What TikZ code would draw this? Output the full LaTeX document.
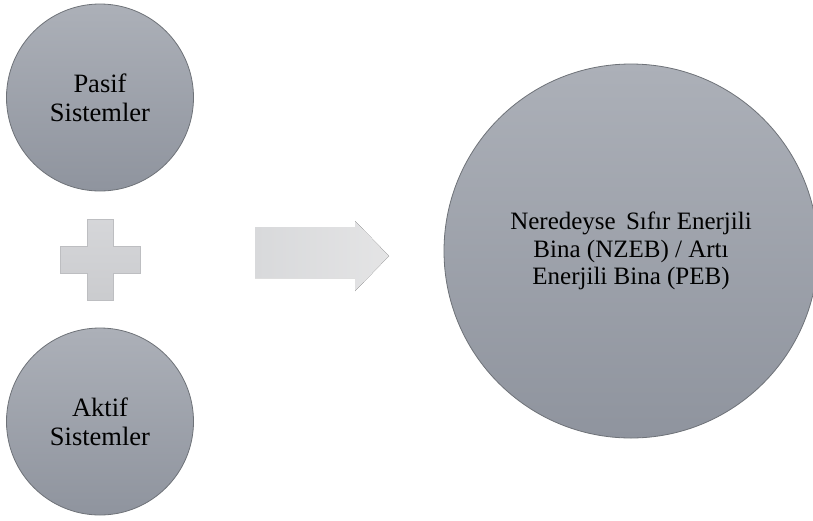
\documentclass[tikz,border=0pt]{standalone}
\usepackage{fontspec}
\setmainfont{Liberation Serif}
\usetikzlibrary{positioning}

\definecolor{discTop}{HTML}{ACB0B8}
\definecolor{discBot}{HTML}{8F949E}
\definecolor{discEdge}{HTML}{6E7278}
\definecolor{plusFill}{HTML}{D3D4D7}
\definecolor{plusEdge}{HTML}{BDBEC1}
\definecolor{arrowLeft}{HTML}{D8D9DB}
\definecolor{arrowRight}{HTML}{E4E4E5}

\begin{document}
\begin{tikzpicture}[x=1pt,y=-1pt,
	disc/.style={circle,draw=discEdge,line width=0.8pt,top color=discTop,bottom color=discBot,
		inner sep=0pt,align=center,font=\fontsize{26.5}{29}\selectfont},
	smalldisc/.style={disc,minimum size=187pt},
	bigdisc/.style={disc,minimum size=374pt,font=\fontsize{25}{27.5}\selectfont}]
	\useasboundingbox[fill=white] (0,0) rectangle (813,520);
	% the two inputs and the result
	\node[smalldisc] (pasif) at (100,97.5) {Pasif\\Sistemler};
	\node[smalldisc] (aktif) at (100,421.5) {Aktif\\Sistemler};
	\node[bigdisc] (nzeb) at (631,251) {Neredeyse\hspace{4pt} Sıfır Enerjili\\Bina (NZEB) / Artı\\Enerjili Bina (PEB)};
	% plus sign
	\filldraw[draw=plusEdge,line width=0.6pt,top color=plusFill!95!white,bottom color=plusFill!96!black]
		(87,219) -- (113,219) -- (113,246) -- (140,246) -- (140,273) -- (113,273)
		-- (113,300) -- (87,300) -- (87,273) -- (60,273) -- (60,246) -- (87,246) -- cycle;
	% block arrow
	\fill[left color=arrowLeft,right color=arrowRight]
		(255,227) -- (355,227) -- (355,221) -- (389,256) -- (355,291) -- (355,278) -- (255,278) -- cycle;
\end{tikzpicture}
\end{document}
